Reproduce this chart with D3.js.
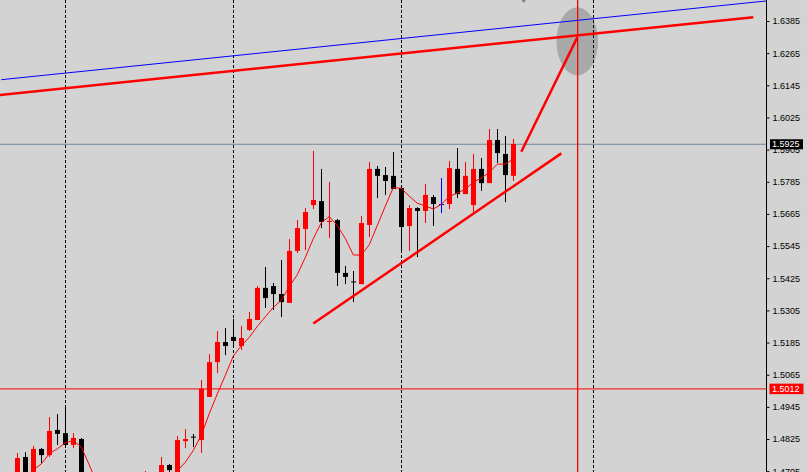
<!DOCTYPE html>
<html><head><meta charset="utf-8">
<script src="https://cdn.jsdelivr.net/npm/d3@7"></script>
<style>html,body{margin:0;padding:0;background:#d3d3d3;overflow:hidden}</style>
</head><body><svg id="c" width="807" height="472"></svg>
<script>
// ---- data (bar index = position in arrays) ----
const opens  = [1.4630,1.4650,1.4663,1.4758,1.4690,1.4788,1.4765,1.4859,1.4847,1.4803,1.4825,1.4644,1.4520,1.4490,1.4525,1.4570,1.4560,1.4625,1.4600,1.4664,1.4620,1.4728,1.4695,1.4817,1.4834,1.4821,1.4982,1.5112,1.5187,1.5206,1.5172,1.5232,1.5269,1.5389,1.5396,1.5366,1.5333,1.5527,1.5609,1.5698,1.5713,1.5635,1.5642,1.5445,1.5413,1.5403,1.5624,1.5833,1.5810,1.5807,1.5762,1.5620,1.5687,1.5676,1.5728,1.5702,1.5702,1.5833,1.5739,1.5698,1.5833,1.5780,1.5941,1.5889,1.5807];
const highs  = [1.4680,1.4690,1.4773,1.4776,1.4799,1.4791,1.4907,1.4918,1.4948,1.4847,1.4829,1.4660,1.4560,1.4540,1.4590,1.4620,1.4640,1.4680,1.4706,1.4690,1.4758,1.4732,1.4836,1.4862,1.4844,1.5045,1.5142,1.5228,1.5239,1.5273,1.5247,1.5299,1.5396,1.5467,1.5407,1.5493,1.5571,1.5642,1.5687,1.5900,1.5833,1.5784,1.5646,1.5471,1.5452,1.5657,1.5859,1.5844,1.5840,1.5896,1.5765,1.5698,1.5690,1.5777,1.5736,1.5799,1.5863,1.5911,1.5859,1.5889,1.5874,1.5982,1.5982,1.5956,1.5945];
const lows   = [1.4610,1.4630,1.4650,1.4680,1.4680,1.4735,1.4758,1.4803,1.4799,1.4791,1.4630,1.4500,1.4460,1.4450,1.4500,1.4540,1.4550,1.4590,1.4590,1.4590,1.4600,1.4695,1.4690,1.4791,1.4795,1.4773,1.4982,1.5071,1.5138,1.5176,1.5157,1.5228,1.5269,1.5314,1.5306,1.5280,1.5333,1.5519,1.5530,1.5683,1.5612,1.5575,1.5396,1.5403,1.5336,1.5403,1.5579,1.5724,1.5736,1.5758,1.5530,1.5527,1.5504,1.5631,1.5620,1.5668,1.5683,1.5724,1.5739,1.5668,1.5751,1.5780,1.5855,1.5709,1.5788];
const closes = [1.4650,1.4663,1.4754,1.4690,1.4788,1.4765,1.4855,1.4844,1.4803,1.4829,1.4644,1.4520,1.4490,1.4525,1.4570,1.4560,1.4625,1.4600,1.4664,1.4608,1.4728,1.4709,1.4821,1.4825,1.4830,1.5012,1.5112,1.5187,1.5172,1.5191,1.5202,1.5273,1.5389,1.5351,1.5366,1.5336,1.5527,1.5612,1.5672,1.5717,1.5635,1.5639,1.5445,1.5430,1.5411,1.5631,1.5833,1.5807,1.5788,1.5758,1.5616,1.5687,1.5676,1.5736,1.5702,1.5702,1.5836,1.5739,1.5807,1.5833,1.5780,1.5941,1.5892,1.5810,1.5926];
const priceTicks = [1.4705,1.4825,1.4945,1.5065,1.5185,1.5305,1.5425,1.5545,1.5665,1.5785,1.5905,1.6025,1.6145,1.6265,1.6385];
const maPeriod = 5;
const bidPrice = 1.5925;
const levelPrice = 1.5012;
const gridBars = [8, 29, 50, 74];
const vlineBar = 72;
const blueLine = [[0, 1.6166], [96, 1.6461]];
const redChannel = [[-0.2, 1.6109], [94, 1.6399]];
const supportLine = [[39, 1.5256], [70, 1.5891]];
const projection = [[65, 1.5897], [72, 1.6324]];
const zone = {bar: 72, price: 1.6309, dBars: 2.6, dPrice: 0.0127};
const arrowMark = [65.3, 1.6460];

// ---- scales ----
const W = 807, H = 472, axisX = 766;
const x = d3.scaleLinear().domain([0, 95]).range([1.3, 761.3]);
const y = d3.scaleLinear().domain([1.47019, 1.64634]).range([H, 0]);

const svg = d3.select('#c');
svg.append('rect').attr('width', W).attr('height', H).attr('fill', '#d3d3d3');
svg.append('defs').append('clipPath').attr('id', 'pc')
  .append('rect').attr('x', 0).attr('y', 0).attr('width', axisX).attr('height', H);
const g = svg.append('g').attr('clip-path', 'url(#pc)');

// zone ellipse
g.append('ellipse')
  .attr('cx', x(zone.bar)).attr('cy', y(zone.price))
  .attr('rx', x(zone.dBars) - x(0)).attr('ry', y(zone.price - zone.dPrice) - y(zone.price))
  .attr('fill', '#a9a9a9');

// grid
g.selectAll('line.grid').data(gridBars).join('line').attr('class', 'grid')
  .attr('x1', d => Math.round(x(d)) + 0.5).attr('x2', d => Math.round(x(d)) + 0.5)
  .attr('y1', 0).attr('y2', H)
  .attr('stroke', '#000').attr('stroke-width', 1).attr('stroke-dasharray', '3,2');

// horizontal lines
g.append('line').attr('x1', 0).attr('x2', axisX).attr('y1', y(bidPrice)).attr('y2', y(bidPrice))
  .attr('stroke', '#778899').attr('stroke-width', 1);
g.append('line').attr('x1', 0).attr('x2', axisX).attr('y1', y(levelPrice)).attr('y2', y(levelPrice))
  .attr('stroke', '#ff0000').attr('stroke-width', 1);

// candles
const bars = d3.range(closes.length).map(i => ({i, o: opens[i], h: highs[i], l: lows[i], c: closes[i]}));
const col = d => d.c > d.o ? '#ff0000' : (d.c < d.o ? '#000000' : '#0000ff');
const cg = g.append('g');
cg.selectAll('line.wick').data(bars).join('line').attr('class', 'wick')
  .attr('x1', d => Math.round(x(d.i)) + 0.5).attr('x2', d => Math.round(x(d.i)) + 0.5)
  .attr('y1', d => y(d.h)).attr('y2', d => y(d.l))
  .attr('stroke', col).attr('stroke-width', 1);
cg.selectAll('rect.body').data(bars).join('rect').attr('class', 'body')
  .attr('x', d => Math.round(x(d.i)) - 2)
  .attr('width', 5)
  .attr('y', d => y(Math.max(d.o, d.c)))
  .attr('height', d => Math.max(1, Math.abs(y(d.o) - y(d.c))))
  .attr('fill', col);

// moving average (SMA of closes)
const ma = bars.filter(d => d.i >= maPeriod - 1)
  .map(d => ({i: d.i, v: d3.mean(closes.slice(d.i - maPeriod + 1, d.i + 1))}));
g.append('path').datum(ma)
  .attr('d', d3.line().x(d => x(d.i)).y(d => y(d.v)))
  .attr('fill', 'none').attr('stroke', '#ff0000').attr('stroke-width', 1);

// vertical red line
g.append('rect').attr('x', Math.round(x(vlineBar))).attr('y', 0)
  .attr('width', 1.3).attr('height', H).attr('fill', '#ff0000');

// trend lines
const tl = d3.line().x(d => x(d[0])).y(d => y(d[1]));
g.append('path').attr('d', tl(blueLine)).attr('stroke', '#0000ff').attr('stroke-width', 1).attr('fill', 'none');
[redChannel, supportLine, projection].forEach(p => {
  g.append('path').attr('d', tl(p)).attr('stroke', '#ff0000').attr('stroke-width', 2.5).attr('fill', 'none');
});

// small arrow marker
const ax = x(arrowMark[0]), ay = y(arrowMark[1]);
g.append('path').attr('d', `M${ax-3},${ay-2}L${ax+3},${ay-2}L${ax},${ay+2}Z`).attr('fill', '#808080');

// axis
const axis = d3.axisRight(y).tickValues(priceTicks).tickSize(3).tickSizeOuter(0).tickPadding(3)
  .tickFormat(d3.format('.4f'));
const ag = svg.append('g').attr('transform', `translate(${axisX + 0.5},0)`).call(axis);
ag.select('.domain').attr('stroke', '#000').attr('d', `M0,0V${H}`);
ag.selectAll('.tick line').attr('stroke', '#000');
ag.selectAll('.tick text').attr('fill', '#000').attr('font-family', '"Liberation Sans", Arial, sans-serif').attr('font-size', '9px');

// price label boxes
function priceBox(p, bg, x0, w, h) {
  svg.append('rect').attr('x', x0).attr('y', y(p) - h / 2).attr('width', w).attr('height', h).attr('fill', bg);
  svg.append('text').attr('x', 772).attr('y', y(p)).attr('dy', '0.34em')
    .attr('fill', '#fff').attr('font-family', '"Liberation Sans", Arial, sans-serif').attr('font-size', '9px')
    .text(d3.format('.4f')(p));
}
priceBox(bidPrice, '#000', 770, 33, 10);
priceBox(levelPrice, '#ff0000', 769.5, 34, 10.5);
</script>
</body></html>
